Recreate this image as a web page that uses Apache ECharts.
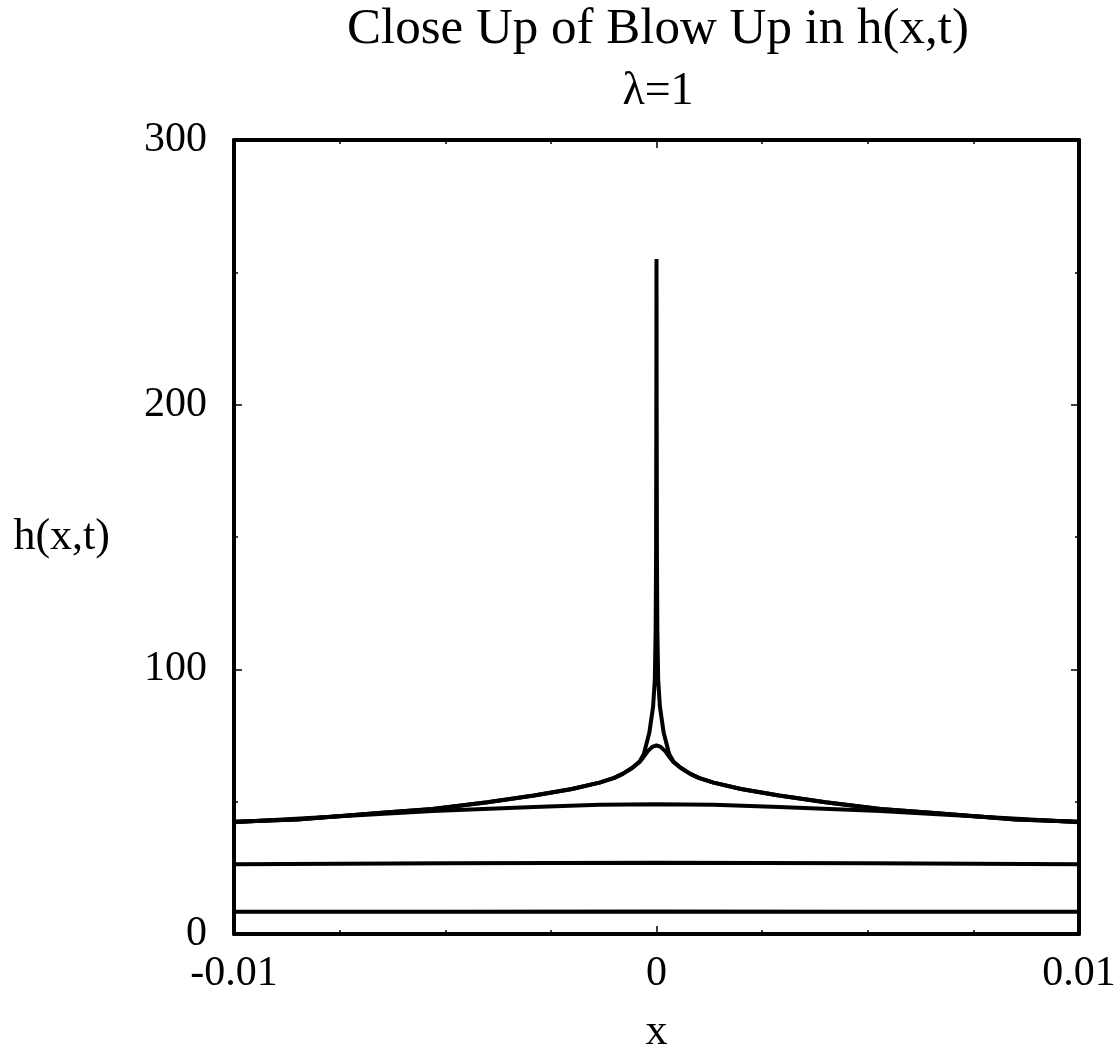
<!DOCTYPE html>
<html>
<head>
<meta charset="utf-8">
<script src="https://cdn.jsdelivr.net/npm/echarts@6/dist/echarts.min.js"></script>
<style>
  html, body { margin: 0; padding: 0; background: #fff; }
  #blowup-chart { width: 1120px; height: 1059px; }
</style>
</head>
<body>
<div id="blowup-chart"></div>
<script>
// tick values
var xTicks = [-0.01, 0, 0.01];
var yTicks = [0, 100, 200, 300];

// curve 1 & 2: early times, almost flat
var c1X = [-0.01, -0.005, 0, 0.005, 0.01];
var c1Y = [8.4, 8.4, 8.5, 8.4, 8.4];
var c2X = [-0.01, -0.005, 0, 0.005, 0.01];
var c2Y = [26.4, 26.7, 26.9, 26.7, 26.4];

// curve 3: low hump
var c3X = [-0.01, -0.0077, -0.0053, -0.0029, -0.00135, 0, 0.00135, 0.0029, 0.0053, 0.0077, 0.01];
var c3Y = [42.2, 44.3, 46.5, 48.0, 48.8, 49.0, 48.8, 48.0, 46.5, 44.3, 42.2];

// curve 4: cusp with rounded top
var c4X = [-0.01, -0.0085, -0.0065, -0.0053, -0.004, -0.0029, -0.002, -0.00135, -0.001, -0.0008, -0.00057, -0.0004, -0.0003, -0.0002, -0.0001, 0,
           0.0001, 0.0002, 0.0003, 0.0004, 0.00057, 0.0008, 0.001, 0.00135, 0.002, 0.0029, 0.004, 0.0053, 0.0065, 0.0085, 0.01];
var c4Y = [42.4, 43.3, 45.8, 47.2, 49.8, 52.3, 54.8, 57.2, 59.0, 60.5, 62.8, 65.0, 67.0, 69.2, 70.7, 71.3,
           70.7, 69.2, 67.0, 65.0, 62.8, 60.5, 59.0, 57.2, 54.8, 52.3, 49.8, 47.2, 45.8, 43.3, 42.4];

// curve 5: blow up spike
var c5X = [-0.01, -0.0085, -0.0065, -0.0053, -0.004, -0.0029, -0.002, -0.00135, -0.001, -0.0008, -0.00057, -0.0004, -0.0003, -0.00017, -0.00008, -0.00004, -0.00002, -0.00001, -0.000004, 0,
           0.000004, 0.00001, 0.00002, 0.00004, 0.00008, 0.00017, 0.0003, 0.0004, 0.00057, 0.0008, 0.001, 0.00135, 0.002, 0.0029, 0.004, 0.0053, 0.0065, 0.0085, 0.01];
var c5Y = [42.4, 43.3, 45.8, 47.2, 49.8, 52.3, 54.8, 57.2, 59.0, 60.5, 62.8, 65.2, 68, 76, 86, 96, 115, 145, 200, 255,
           200, 145, 115, 96, 86, 76, 68, 65.2, 62.8, 60.5, 59.0, 57.2, 54.8, 52.3, 49.8, 47.2, 45.8, 43.3, 42.4];

var curves = [[c1X, c1Y], [c2X, c2Y], [c3X, c3Y], [c4X, c4Y], [c5X, c5Y]];

var font = '"Liberation Serif", "DejaVu Serif", serif';

function pairs(xs, ys) {
    return xs.map(function (x, i) { return [x, ys[i]]; });
}

var tickStyle = { show: true, inside: true, length: 8, lineStyle: { color: '#000', width: 1.5 } };
var minorStyle = { show: true, length: 4, lineStyle: { color: '#000', width: 1.5 } };
var lineStyle = { show: true, onZero: false, lineStyle: { color: '#000', width: 4 } };

var chart = echarts.init(document.getElementById('blowup-chart'));
chart.setOption({
    animation: false,
    backgroundColor: '#fff',
    title: [
        {
            text: 'Close Up of Blow Up in h(x,t)',
            left: 658, top: 4, padding: 0, textAlign: 'center',
            textStyle: { fontFamily: font, fontSize: 51, fontWeight: 'normal', color: '#000' }
        },
        {
            text: 'λ=1',
            left: 658, top: 69, padding: 0, textAlign: 'center',
            textStyle: { fontFamily: font, fontSize: 46, fontWeight: 'normal', color: '#000' }
        }
    ],
    grid: { left: 234, right: 41, top: 140, bottom: 122.5, containLabel: false },
    xAxis: [
        {
            type: 'value', position: 'bottom',
            min: xTicks[0], max: xTicks[xTicks.length - 1], interval: 0.01,
            name: 'x', nameLocation: 'middle', nameGap: 76,
            nameTextStyle: { fontFamily: font, fontSize: 44, color: '#000' },
            axisLine: lineStyle, axisTick: tickStyle,
            minorTick: Object.assign({ splitNumber: 4 }, minorStyle),
            splitLine: { show: false },
            axisLabel: { fontFamily: font, fontSize: 42, color: '#000', margin: 19 }
        },
        {
            type: 'value', position: 'top',
            min: xTicks[0], max: xTicks[xTicks.length - 1], interval: 0.01,
            axisLine: lineStyle, axisTick: tickStyle,
            minorTick: Object.assign({ splitNumber: 4 }, minorStyle),
            splitLine: { show: false }, axisLabel: { show: false }
        }
    ],
    yAxis: [
        {
            type: 'value', position: 'left',
            min: yTicks[0], max: yTicks[yTicks.length - 1], interval: 100,
            name: 'h(x,t)', nameLocation: 'middle', nameRotate: 0, nameGap: 124,
            nameTextStyle: { fontFamily: font, fontSize: 44, color: '#000', padding: [0, 0, 20, 0] },
            axisLine: lineStyle, axisTick: tickStyle,
            minorTick: Object.assign({ splitNumber: 2 }, minorStyle),
            splitLine: { show: false },
            axisLabel: { fontFamily: font, fontSize: 42, color: '#000', margin: 27 }
        },
        {
            type: 'value', position: 'right',
            min: yTicks[0], max: yTicks[yTicks.length - 1], interval: 100,
            axisLine: lineStyle, axisTick: tickStyle,
            minorTick: Object.assign({ splitNumber: 2 }, minorStyle),
            splitLine: { show: false }, axisLabel: { show: false }
        }
    ],
    series: curves.map(function (c) {
        return {
            type: 'line',
            xAxisIndex: 0, yAxisIndex: 0,
            showSymbol: false, symbol: 'none',
            lineStyle: { color: '#000', width: 4 },
            data: pairs(c[0], c[1])
        };
    })
});
</script>
</body>
</html>
